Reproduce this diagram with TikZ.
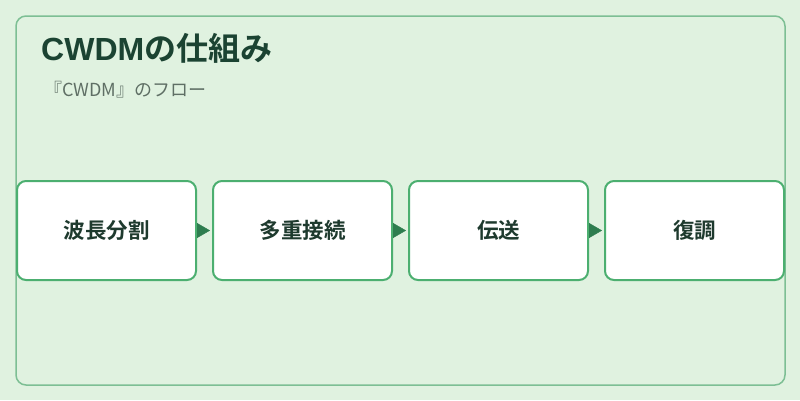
\documentclass[tikz,border=0pt]{standalone}
\usepackage{fontspec}
\setmainfont{Noto Sans CJK JP}
\newfontfamily\jpbold{Noto Sans CJK JP Bold}
\newfontfamily\latbold{Liberation Sans Bold}
\usetikzlibrary{positioning,arrows.meta}
\definecolor{bgcol}{HTML}{E0F2E0}
\definecolor{framecol}{HTML}{7DBF94}
\definecolor{boxcol}{HTML}{4CAF70}
\definecolor{arrcol}{HTML}{2E7D4F}
\definecolor{titlecol}{HTML}{1B4332}
\definecolor{subcol}{HTML}{5F6F65}
\definecolor{labcol}{HTML}{1E3A2E}

\begin{document}
\begin{tikzpicture}[x=1pt,y=-1pt,node distance=196pt,on grid,
    stage/.style={draw=boxcol,fill=white,line width=2pt,rounded corners=9pt,
      minimum width=179pt,minimum height=99pt,inner sep=0pt,
      font=\jpbold\fontsize{21.5}{24}\selectfont,text=labcol},
    flow/.style={draw=none,-{Triangle[length=13pt,width=15pt]},arrcol,
      shorten <=2pt,shorten >=2pt}]
    \fill[bgcol] (0,0) rectangle (800,400);
    \useasboundingbox (0,0) rectangle (800,400);
    \draw[framecol,line width=1.5pt,rounded corners=10pt] (16,16) rectangle (785,385);
    \node[anchor=base west,text=titlecol,inner sep=0pt,
      font=\jpbold\fontsize{32}{36}\selectfont] (Title) at (41,60) {{\latbold CWDM}の仕組み};
    \node[anchor=base west,text=subcol,inner sep=0pt,
      font=\fontsize{18}{22}\selectfont] (Sub) at (44,96) {『CWDM』のフロー};
    \node[stage] (Split) at (106.5,230.5) {波長分割};
    \node[stage] (Mux) [right=of Split] {多重接続};
    \node[stage] (Trans) [right=of Mux] {伝送};
    \node[stage] (Demod) [right=of Trans] {復調};
    \path[flow]
    (Split) edge (Mux)
    (Mux) edge (Trans)
    (Trans) edge (Demod);
\end{tikzpicture}
\end{document}
